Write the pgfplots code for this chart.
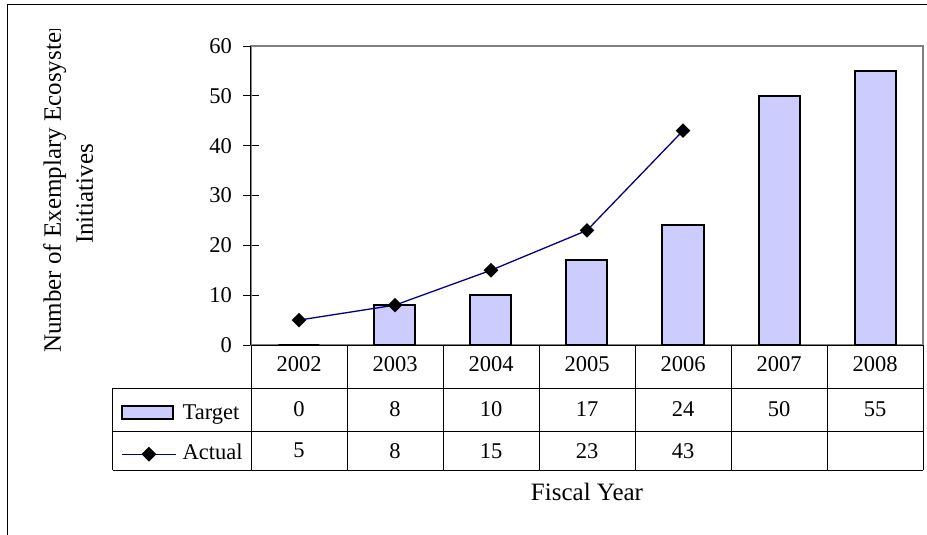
\documentclass[border=0pt]{standalone}
\usepackage{fontspec}
\setmainfont{Liberation Serif}
\usepackage{pgfplots}
\pgfplotsset{compat=1.18}
\definecolor{barfill}{RGB}{204,204,255}
\definecolor{navyline}{RGB}{0,0,128}
\definecolor{framegray}{RGB}{128,128,128}
\newcommand{\tfont}{\fontsize{22.5bp}{27bp}\selectfont}
\newcommand{\bfont}{\fontsize{25bp}{30bp}\selectfont}
\begin{document}
\begin{tikzpicture}
\useasboundingbox (-251bp,-190bp) rectangle (676bp,345bp);
\begin{axis}[
  at={(0bp,0bp)}, anchor=south west,
  scale only axis, width=672bp, height=299bp,
  xmin=-0.5, xmax=6.5, ymin=0, ymax=60,
  xtick=\empty, ytick={0,10,...,60}, ytick pos=left,
  tick align=center, major tick length=16bp,
  tick style={black, line width=0.8bp},
  axis line style={draw=framegray, line width=1.2bp},
  /pgf/number format/assume math mode=true,
  yticklabel style={font=\tfont, inner sep=0pt, anchor=east, xshift=-11bp},
  clip=false,
  legend style={draw=none, fill=none, at={(axis description cs:-0.1935,-0.194)}, anchor=north west,
    inner sep=0pt, row sep=19bp, column sep=6bp, font=\tfont,
    nodes={inner sep=0pt, text height=16bp, text depth=5bp, anchor=base west}},
  legend cell align=left,
]
\draw[black, line width=1bp] (rel axis cs:0,0) -- (rel axis cs:0,1);
\addplot[ybar, bar width=41bp, fill=barfill, draw=black, line width=2bp, bar shift=0pt,
  legend image code/.code={\draw[fill=barfill, draw=black, line width=1.5bp] (0bp,0bp) rectangle (51bp,13bp);}]
  coordinates {(0,0) (1,8) (2,10) (3,17) (4,24) (5,50) (6,55)};
\addlegendentry{Target}
\addplot[navyline, line width=1.3bp, mark=square*, mark size=4.5bp,
  mark options={rotate=45, fill=black, draw=black},
  legend image code/.code={\draw[navyline, line width=1.3bp] (0bp,5bp) -- (54bp,5bp);
    \fill[black] (27bp,-1.5bp) -- (33.5bp,5bp) -- (27bp,11.5bp) -- (20.5bp,5bp) -- cycle;}]
  coordinates {(0,5) (1,8) (2,15) (3,23) (4,43)};
\addlegendentry{Actual}
\draw[black, line width=1bp] (rel axis cs:0,0) -- (rel axis cs:1,0);
\end{axis}
% data table grid
\foreach \k in {0,...,7} \draw[black, line width=1bp] (\k*96bp,0bp) -- (\k*96bp,-125bp);
\foreach \yy in {-43,-86,-125} \draw[black, line width=1bp] (-138bp,\yy bp) -- (672bp,\yy bp);
\draw[black, line width=1bp] (-138bp,-43bp) -- (-138bp,-125bp);
% table text
\foreach \t [count=\i from 0] in {2002,2003,2004,2005,2006,2007,2008}
  \node[font=\tfont, inner sep=0pt] at (48bp+\i*96bp,-19.5bp) {\t};
\foreach \t [count=\i from 0] in {0,8,10,17,24,50,55}
  \node[font=\tfont, inner sep=0pt] at (48bp+\i*96bp,-64.5bp) {\t};
\foreach \t [count=\i from 0] in {5,8,15,23,43}
  \node[font=\tfont, inner sep=0pt] at (48bp+\i*96bp,-105.7bp) {\t};
% titles
\begin{scope}
\clip (-251bp,-190bp) rectangle (676bp,315bp);
\node[rotate=90, anchor=base west, font=\bfont, inner sep=0pt] at (-190bp,-8bp) {Number of Exemplary Ecosystem};
\end{scope}
\node[rotate=90, anchor=base, font=\bfont, inner sep=0pt] at (-158bp,151bp) {Initiatives};
\node[font=\bfont, inner sep=0pt] at (336bp,-147bp) {Fiscal Year};
% outer chart border
\draw[black, line width=1bp] (700bp,340bp) -- (-243bp,340bp) -- (-243bp,-200bp);
\end{tikzpicture}
\end{document}
